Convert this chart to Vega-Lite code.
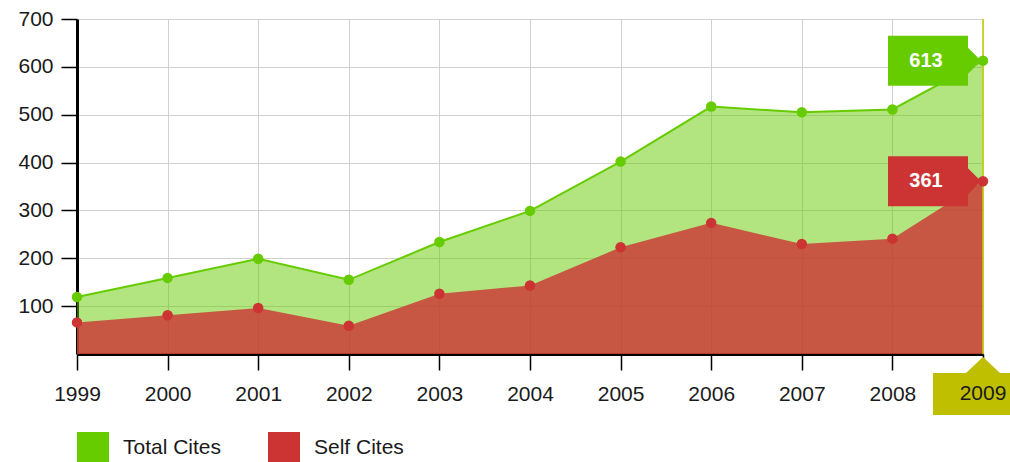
{
  "$schema": "https://vega.github.io/schema/vega-lite/v6.json",
  "autosize": "none",
  "width": 906,
  "height": 335,
  "padding": {"left": 77, "top": 19, "right": 27, "bottom": 108},
  "background": "white",
  "config": {
    "font": "Liberation Sans",
    "view": {"stroke": null},
    "axis": {"labelFont": "Liberation Sans", "labelFontSize": 21, "labelColor": "#1a1a1a", "gridColor": "#d0d0d0", "gridWidth": 1, "domainColor": "#000", "domainWidth": 3, "tickColor": "#000", "tickWidth": 1.5, "tickSize": 16, "title": null},
    "legend": {"symbolType": "square", "symbolOpacity": 1, "symbolStrokeWidth": 0}
  },
  "data": {"values": [
    {"year": 1999, "series": "Total Cites", "cites": 119},
    {"year": 2000, "series": "Total Cites", "cites": 159},
    {"year": 2001, "series": "Total Cites", "cites": 199},
    {"year": 2002, "series": "Total Cites", "cites": 155},
    {"year": 2003, "series": "Total Cites", "cites": 234},
    {"year": 2004, "series": "Total Cites", "cites": 299},
    {"year": 2005, "series": "Total Cites", "cites": 402},
    {"year": 2006, "series": "Total Cites", "cites": 517},
    {"year": 2007, "series": "Total Cites", "cites": 505},
    {"year": 2008, "series": "Total Cites", "cites": 511},
    {"year": 2009, "series": "Total Cites", "cites": 613},
    {"year": 1999, "series": "Self Cites", "cites": 66},
    {"year": 2000, "series": "Self Cites", "cites": 81},
    {"year": 2001, "series": "Self Cites", "cites": 96},
    {"year": 2002, "series": "Self Cites", "cites": 59},
    {"year": 2003, "series": "Self Cites", "cites": 126},
    {"year": 2004, "series": "Self Cites", "cites": 143},
    {"year": 2005, "series": "Self Cites", "cites": 223},
    {"year": 2006, "series": "Self Cites", "cites": 274},
    {"year": 2007, "series": "Self Cites", "cites": 230},
    {"year": 2008, "series": "Self Cites", "cites": 241},
    {"year": 2009, "series": "Self Cites", "cites": 361}
  ]},
  "encoding": {
    "x": {"field": "year", "type": "quantitative",
      "scale": {"domain": [1999, 2009], "nice": false, "zero": false},
      "axis": {"values": [1999, 2000, 2001, 2002, 2003, 2004, 2005, 2006, 2007, 2008, 2009], "format": "d", "labelPadding": 13, "labelFlush": false, "grid": true}}
  },
  "layer": [
    {
      "transform": [{"filter": "datum.series === 'Total Cites'"}],
      "mark": {"type": "area", "opacity": 0.5},
      "encoding": {
        "y": {"field": "cites", "type": "quantitative", "stack": null,
          "scale": {"domain": [0, 700], "nice": false},
          "axis": {"values": [100, 200, 300, 400, 500, 600, 700], "labelPadding": 8, "grid": true}},
        "color": {"field": "series", "type": "nominal",
          "scale": {"domain": ["Total Cites", "Self Cites"], "range": ["#66cc00", "#cc3333"]},
          "legend": {"title": null, "orient": "none", "legendX": 0, "legendY": 413, "direction": "horizontal", "symbolSize": 1024, "labelFontSize": 21, "labelFont": "Liberation Sans", "labelColor": "#1a1a1a", "labelOffset": 14, "columnPadding": 46}}
      }
    },
    {
      "transform": [{"filter": "datum.series === 'Total Cites'"}],
      "mark": {"type": "line", "strokeWidth": 2},
      "encoding": {
        "y": {"field": "cites", "type": "quantitative"},
        "color": {"field": "series", "type": "nominal"}
      }
    },
    {
      "transform": [{"filter": "datum.series === 'Self Cites'"}],
      "mark": {"type": "area", "opacity": 0.8},
      "encoding": {
        "y": {"field": "cites", "type": "quantitative", "stack": null},
        "color": {"field": "series", "type": "nominal"}
      }
    },
    {
      "transform": [{"filter": "datum.year === 2009 && datum.series === 'Total Cites'"}],
      "mark": {"type": "rule", "color": "#c8c800", "strokeWidth": 1.5},
      "encoding": {}
    },
    {
      "transform": [{"filter": "datum.year === 2009"}],
      "mark": {"type": "point", "filled": true, "opacity": 1, "strokeWidth": 0, "size": 10000,
        "shape": "M -1.9 -0.5 L -0.3 -0.5 L -0.3 -0.26 L -0.04 0 L -0.3 0.26 L -0.3 0.5 L -1.9 0.5 Z"},
      "encoding": {
        "y": {"field": "cites", "type": "quantitative"},
        "color": {"field": "series", "type": "nominal"}
      }
    },
    {
      "mark": {"type": "point", "filled": true, "opacity": 1, "size": 110, "strokeWidth": 0},
      "encoding": {
        "y": {"field": "cites", "type": "quantitative"},
        "color": {"field": "series", "type": "nominal"}
      }
    },
    {
      "transform": [{"filter": "datum.year === 2009"}],
      "mark": {"type": "text", "color": "white", "fontWeight": "bold", "fontSize": 20, "align": "center", "baseline": "middle", "xOffset": -57, "font": "Liberation Sans"},
      "encoding": {
        "y": {"field": "cites", "type": "quantitative"},
        "text": {"field": "cites", "type": "quantitative"}
      }
    },
    {
      "transform": [{"filter": "datum.year === 2009 && datum.series === 'Total Cites'"}],
      "mark": {"type": "point", "filled": true, "opacity": 1, "strokeWidth": 0, "size": 10000, "color": "#bfbf00",
        "shape": "M -1 0.38 L -0.34 0.38 L 0 0.06 L 0.34 0.38 L 1 0.38 L 1 1.22 L -1 1.22 Z"},
      "encoding": {
        "y": {"datum": 0, "type": "quantitative"}
      }
    },
    {
      "transform": [{"filter": "datum.year === 2009 && datum.series === 'Total Cites'"}],
      "mark": {"type": "text", "color": "#1a1a1a", "fontSize": 21, "align": "center", "baseline": "top", "yOffset": 29, "font": "Liberation Sans"},
      "encoding": {
        "y": {"datum": 0, "type": "quantitative"},
        "text": {"field": "year", "type": "quantitative", "format": "d"}
      }
    }
  ]
}
